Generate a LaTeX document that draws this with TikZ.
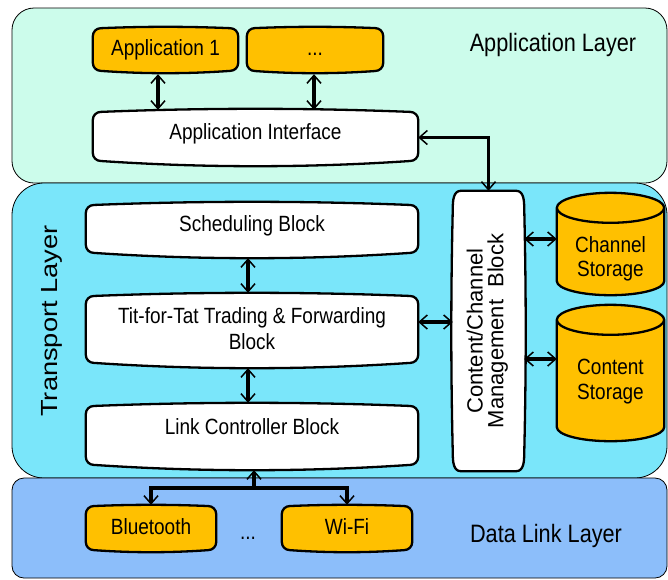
\documentclass[tikz,border=0pt]{standalone}
\usepackage{fontspec}
\setmainfont{Liberation Sans}
\usetikzlibrary{arrows.meta,calc}
\definecolor{appc}{RGB}{204,252,235}
\definecolor{trc}{RGB}{122,230,250}
\definecolor{dlc}{RGB}{140,190,250}
\definecolor{orng}{RGB}{255,192,0}
\pgfdeclarelayer{panels}
\pgfdeclarelayer{bg}
\pgfsetlayers{panels,bg,main}
% one line of horizontal text, baseline raised by #1 from the node centre
\newcommand\tline[2]{\makebox[0pt]{\raisebox{#1}[0pt][0pt]{\scalebox{1}[1.16]{#2}}}}
% one line of text for rotated labels
\newcommand\rline[3][1]{\makebox[0pt]{\raisebox{#2}[0pt][0pt]{\scalebox{#1}[1]{#3}}}}
% box outline with slightly bulging top and bottom edges
\newcommand\bulgebox[2]{%
\draw[boxline,fill=#2] let \p1=(#1.north west), \p2=(#1.south east),
 \n1={0.0095*(\x2-\x1)}, \n2={0.016*(\x2-\x1)}, \n3={(\x2-\x1-16pt)/3},
 \n4={\n1/0.75}, \n5={\n2/0.75} in
 (\x1,{\y1-\n1*1pt-8pt}) to[out=90,in=180] ({\x1+8pt},{\y1-\n1*1pt})
 .. controls ({\x1+8pt+\n3*1pt},{\y1-\n1*1pt+\n4*1pt}) and ({\x2-8pt-\n3*1pt},{\y1-\n1*1pt+\n4*1pt}) .. ({\x2-8pt},{\y1-\n1*1pt})
 to[out=0,in=90] (\x2,{\y1-\n1*1pt-8pt})
 -- (\x2,{\y2+\n2*1pt+8pt}) to[out=-90,in=0] ({\x2-8pt},{\y2+\n2*1pt})
 .. controls ({\x2-8pt-\n3*1pt},{\y2+\n2*1pt-\n5*1pt}) and ({\x1+8pt+\n3*1pt},{\y2+\n2*1pt-\n5*1pt}) .. ({\x1+8pt},{\y2+\n2*1pt})
 to[out=180,in=-90] (\x1,{\y2+\n2*1pt+8pt}) -- cycle;}
% cylinder outline
\newcommand\cylout[1]{%
\draw[boxline,fill=orng] let \p1=(#1.north west), \p2=(#1.south east),
 \n1={(\x2-\x1)/2} in
 (\x1,{\y1-15pt}) -- (\x1,{\y2+14pt})
 arc[start angle=180,end angle=360,x radius={\n1*1pt},y radius=14pt]
 -- (\x2,{\y1-15pt})
 arc[start angle=0,end angle=180,x radius={\n1*1pt},y radius=15pt] -- cycle
 ({(\x1+\x2)/2},{\y1-15pt}) ellipse[x radius={\n1*1pt},y radius=15pt];}
\tikzset{
 panel/.style={draw=black,line width=0.8pt},
 boxline/.style={draw=black,line width=2.3pt,line join=round},
 blk/.style={inner sep=0pt,font=\fontsize{19pt}{23pt}\selectfont},
 txt/.style={inner sep=0pt},
 >={Straight Barb[length=8pt,width=14pt,line width=1.5pt]},
 conn/.style={line width=3.2pt,<->},
 conn1/.style={line width=3.2pt,->}
}
\begin{document}
\begin{tikzpicture}[x=1pt,y=-1pt]
\useasboundingbox (0,0) rectangle (668,579);
% layer panels
\begin{pgfonlayer}{panels}
\draw[panel,fill=appc,rounded corners=22pt] (12,8) rectangle (667,183);
\draw[panel,fill=trc,rounded corners=32pt] (12,183) rectangle (667,478);
\draw[panel,fill=dlc,rounded corners=12pt] (12,478) rectangle (667,578);
\end{pgfonlayer}
% layer labels
\node[txt,font=\fontsize{21.7pt}{26pt}\selectfont] (applabel) at (553,42) {\tline{-9pt}{Application Layer}};
\node[txt,font=\fontsize{21.7pt}{26pt}\selectfont] (dllabel) at (546,533) {\tline{-9pt}{Data Link Layer}};
\node[txt,font=\fontsize{23.3pt}{28pt}\selectfont,rotate=90] (tlabel) at (49.3,321) {\rline[1.17]{-8.3pt}{Transport Layer}};
% boxes
\node[blk,minimum width=145pt,minimum height=46pt] (app1) at (165.5,50) {\tline{-5.9pt}{Application 1}};
\node[blk,minimum width=136pt,minimum height=46pt] (dotsbox) at (315,50) {\tline{-5pt}{...}};
\node[blk,minimum width=325pt,minimum height=57pt] (appif) at (255.5,137.5) {\tline{-1.9pt}{Application Interface}};
\node[blk,minimum width=332pt,minimum height=56pt] (sched) at (252,230) {\tline{-1.4pt}{Scheduling Block}};
\node[blk,minimum width=332pt,minimum height=75pt] (tft) at (252,330.5) {\tline{6.6pt}{Tit-for-Tat Trading \& Forwarding}\tline{-19.4pt}{Block}};
\node[blk,minimum width=332pt,minimum height=67pt] (link) at (252,436.5) {\tline{1.6pt}{Link Controller Block}};
\node[blk,minimum width=71pt,minimum height=280pt,font=\fontsize{22pt}{26pt}\selectfont] (content) at (488.5,331) {\rotatebox{90}{\rline{5.9pt}{Content/Channel}\rline{-14.9pt}{Management\ \ Block}}};
\node[blk,minimum width=107pt,minimum height=102pt] (chan) at (610.5,244) {\tline{-8.4pt}{Channel}\tline{-32.9pt}{Storage}};
\node[blk,minimum width=107pt,minimum height=136pt] (contcyl) at (610.5,373) {\tline{-1.9pt}{Content}\tline{-26.9pt}{Storage}};
\node[blk,minimum width=130pt,minimum height=47pt] (bt) at (151,528.5) {\tline{-6.4pt}{Bluetooth}};
\node[blk,minimum width=130pt,minimum height=47pt] (wifi) at (347,528.5) {\tline{-6.4pt}{Wi-Fi}};
\node[blk] (dldots) at (248,539) {\tline{0pt}{...}};
% outlines
\begin{pgfonlayer}{bg}
\bulgebox{app1}{orng}
\bulgebox{dotsbox}{orng}
\bulgebox{appif}{white}
\bulgebox{sched}{white}
\bulgebox{tft}{white}
\bulgebox{link}{white}
\bulgebox{bt}{orng}
\bulgebox{wifi}{orng}
\draw[boxline,fill=white] let \p1=(content.north west),\p2=(content.south east) in
 (\x1,{\y1-17pt}) to[out=90,in=180] ({\x1+8pt},\y1) -- ({\x2-8pt},\y1)
 to[out=0,in=90] (\x2,{\y1-17pt})
 .. controls ({\x2+2pt},{\y1-100pt}) and ({\x2+2pt},{\y2+100pt}) .. (\x2,{\y2+17pt})
 to[out=-90,in=0] ({\x2-8pt},\y2) -- ({\x1+8pt},\y2)
 to[out=180,in=-90] (\x1,{\y2+17pt})
 .. controls ({\x1-2pt},{\y2+100pt}) and ({\x1-2pt},{\y1-100pt}) .. (\x1,{\y1-17pt}) -- cycle;
\cylout{chan}
\cylout{contcyl}
\end{pgfonlayer}
% connectors
\draw[conn] ([xshift=-7.5pt,yshift=-1pt]app1.south) -- ([xshift=-97.5pt,yshift=-1pt]appif.north);
\draw[conn] ([xshift=-1pt,yshift=-1pt]dotsbox.south) -- ([xshift=58.5pt,yshift=-1pt]appif.north);
\draw[conn] (appif.east) -| (content.north);
\draw[conn] ([xshift=-4pt]sched.south) -- ([xshift=-4pt]tft.north);
\draw[conn] ([xshift=-4pt]tft.south) -- ([xshift=-4pt]link.north);
\draw[conn] ([yshift=8.5pt]tft.east) -- ([yshift=9pt]content.west);
\draw[conn] ([yshift=92pt]content.east) -- ([yshift=5pt]chan.west);
\draw[conn] ([yshift=-28pt]content.east) -- ([yshift=14pt]contcyl.west);
\coordinate (jn) at (254,488);
\draw[conn1] (jn) -| (bt.north);
\draw[conn1] (jn) -| (wifi.north);
\draw[conn1] (jn) -- ([xshift=2pt]link.south);
\end{tikzpicture}
\end{document}
